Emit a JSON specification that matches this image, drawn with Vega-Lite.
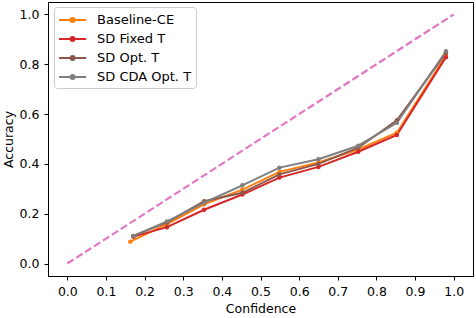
{
  "$schema": "https://vega.github.io/schema/vega-lite/v6.json",
  "width": 425,
  "height": 274,
  "autosize": {"type": "none"},
  "padding": {"left": 48, "top": 2, "right": 3, "bottom": 42},
  "background": "white",
  "config": {
    "font": "DejaVu Sans",
    "view": {"stroke": "#000000", "strokeWidth": 1},
    "axis": {
      "grid": false,
      "domainColor": "#000000",
      "tickColor": "#000000",
      "tickSize": 4,
      "labelColor": "#000000",
      "titleColor": "#000000",
      "labelFontSize": 12.5,
      "titleFontSize": 12.5,
      "titleFontWeight": "normal",
      "labelPadding": 5
    }
  },
  "datasets": {
    "cal": [
      {"model": "Baseline-CE", "conf": 0.163, "acc": 0.088},
      {"model": "Baseline-CE", "conf": 0.258, "acc": 0.158},
      {"model": "Baseline-CE", "conf": 0.354, "acc": 0.238},
      {"model": "Baseline-CE", "conf": 0.453, "acc": 0.297},
      {"model": "Baseline-CE", "conf": 0.549, "acc": 0.368},
      {"model": "Baseline-CE", "conf": 0.650, "acc": 0.406},
      {"model": "Baseline-CE", "conf": 0.753, "acc": 0.458},
      {"model": "Baseline-CE", "conf": 0.853, "acc": 0.525},
      {"model": "Baseline-CE", "conf": 0.980, "acc": 0.835},
      {"model": "SD Fixed T", "conf": 0.171, "acc": 0.108},
      {"model": "SD Fixed T", "conf": 0.258, "acc": 0.146},
      {"model": "SD Fixed T", "conf": 0.354, "acc": 0.216},
      {"model": "SD Fixed T", "conf": 0.453, "acc": 0.277},
      {"model": "SD Fixed T", "conf": 0.549, "acc": 0.345},
      {"model": "SD Fixed T", "conf": 0.650, "acc": 0.388},
      {"model": "SD Fixed T", "conf": 0.753, "acc": 0.449},
      {"model": "SD Fixed T", "conf": 0.853, "acc": 0.516},
      {"model": "SD Fixed T", "conf": 0.980, "acc": 0.828},
      {"model": "SD Opt. T", "conf": 0.171, "acc": 0.111},
      {"model": "SD Opt. T", "conf": 0.258, "acc": 0.165},
      {"model": "SD Opt. T", "conf": 0.354, "acc": 0.250},
      {"model": "SD Opt. T", "conf": 0.453, "acc": 0.284},
      {"model": "SD Opt. T", "conf": 0.549, "acc": 0.358},
      {"model": "SD Opt. T", "conf": 0.650, "acc": 0.400},
      {"model": "SD Opt. T", "conf": 0.753, "acc": 0.465},
      {"model": "SD Opt. T", "conf": 0.853, "acc": 0.575},
      {"model": "SD Opt. T", "conf": 0.980, "acc": 0.845},
      {"model": "SD CDA Opt. T", "conf": 0.171, "acc": 0.111},
      {"model": "SD CDA Opt. T", "conf": 0.258, "acc": 0.169},
      {"model": "SD CDA Opt. T", "conf": 0.354, "acc": 0.244},
      {"model": "SD CDA Opt. T", "conf": 0.453, "acc": 0.314},
      {"model": "SD CDA Opt. T", "conf": 0.549, "acc": 0.385},
      {"model": "SD CDA Opt. T", "conf": 0.650, "acc": 0.419},
      {"model": "SD CDA Opt. T", "conf": 0.753, "acc": 0.473},
      {"model": "SD CDA Opt. T", "conf": 0.853, "acc": 0.565},
      {"model": "SD CDA Opt. T", "conf": 0.980, "acc": 0.852}
    ],
    "diag": [
      {"conf": 0, "acc": 0},
      {"conf": 1, "acc": 1}
    ]
  },
  "layer": [
    {
      "data": {"name": "diag"},
      "mark": {"type": "line", "color": "#e377c2", "strokeWidth": 2.2, "strokeDash": [7.4, 3.2]},
      "encoding": {
        "x": {"field": "conf", "type": "quantitative", "scale": {"domain": [-0.05, 1.05], "nice": false, "zero": false},
              "axis": {"title": "Confidence", "values": [0, 0.1, 0.2, 0.3, 0.4, 0.5, 0.6, 0.7, 0.8, 0.9, 1.0], "format": ".1f", "titlePadding": 5}},
        "y": {"field": "acc", "type": "quantitative", "scale": {"domain": [-0.05, 1.05], "nice": false, "zero": false},
              "axis": {"title": "Accuracy", "values": [0, 0.2, 0.4, 0.6, 0.8, 1.0], "format": ".1f", "titlePadding": 4}}
      }
    },
    {
      "data": {"name": "cal"},
      "mark": {"type": "line", "strokeWidth": 2, "point": {"filled": true, "size": 20, "opacity": 1}},
      "encoding": {
        "x": {"field": "conf", "type": "quantitative"},
        "y": {"field": "acc", "type": "quantitative"},
        "color": {
          "field": "model", "type": "nominal",
          "scale": {"domain": ["Baseline-CE", "SD Fixed T", "SD Opt. T", "SD CDA Opt. T"],
                    "range": ["#ff7f0e", "#d62728", "#8c564b", "#7f7f7f"]},
          "legend": {
            "title": null,
            "orient": "none",
            "legendX": 6,
            "legendY": 5,
            "symbolType": "M-1,0H2.4M0.45,0A0.25,0.25 0 1,0 0.95,0A0.25,0.25 0 1,0 0.45,0Z",
            "symbolSize": 256,
            "symbolStrokeWidth": 2,
            "labelFontSize": 13,
            "labelColor": "#000000",
            "rowPadding": 3,
            "labelOffset": 21,
            "padding": 4,
            "strokeColor": "#cccccc",
            "fillColor": "rgba(255,255,255,0.8)",
            "cornerRadius": 3
          }
        },
        "order": {"field": "conf", "type": "quantitative"}
      }
    }
  ]
}
